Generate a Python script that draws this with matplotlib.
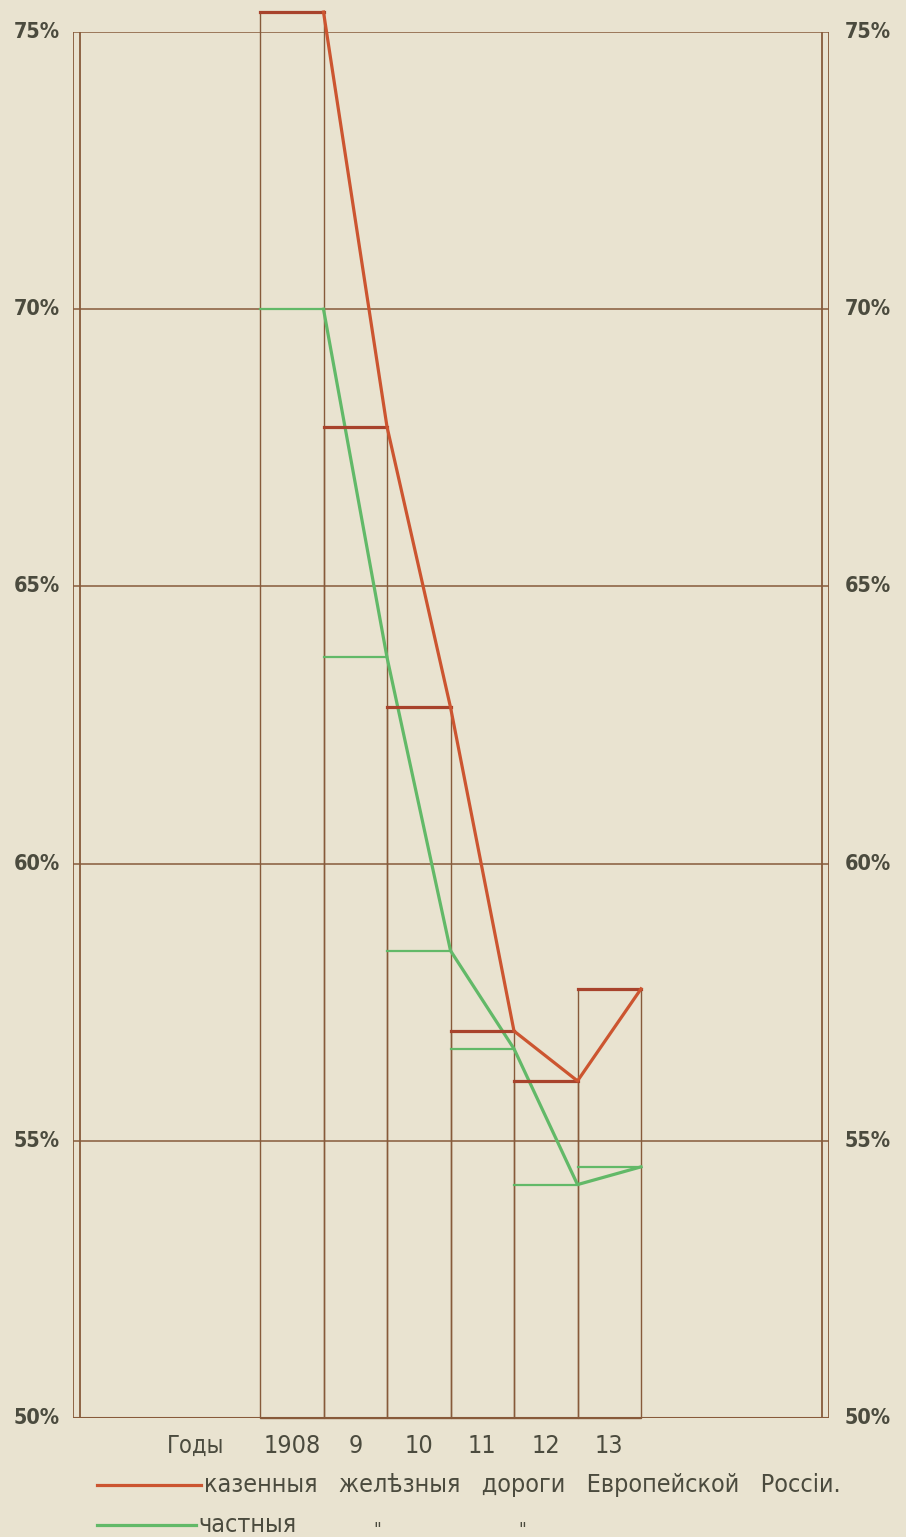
import matplotlib
matplotlib.use('Agg')
import matplotlib.pyplot as plt
from matplotlib.lines import Line2D
from matplotlib import font_manager

# данные
years = ['1908', '9', '10', '11', '12', '13']
state = [75.36, 67.88, 62.82, 56.98, 56.08, 57.74]     # казенныя
private = [70.0, 63.72, 58.43, 56.66, 54.21, 54.53]    # частныя
y_ticks = [50, 55, 60, 65, 70, 75]

BG = '#e9e3d0'
BROWN = '#875a3a'
RED = '#cc5530'
DRED = '#a8432c'
GREEN = '#62b968'
TXT = '#4b4b3e'

names = {f.name for f in font_manager.fontManager.ttflist}
FONT = [n for n in ('DejaVu Sans Condensed', 'Liberation Sans Narrow') if n in names]
FONT += ['DejaVu Sans']

W, H = 906, 1537
fig = plt.figure(figsize=(W / 100, H / 100), dpi=100, facecolor=BG)

unit = 63.5  # px per year column
x0 = 260     # px of first column
xl = (73 - x0) / unit
xr = (829 - x0) / unit
ax = fig.add_axes([73 / W, 1 - 1418 / H, (829 - 73) / W, (1418 - 32) / H])
ax.set_facecolor(BG)
ax.set_xlim(xl, xr)
ax.set_ylim(50, 75)
ax.axis('off')

n = len(years)
xs = list(range(n))

# horizontal grid
for v in y_ticks[1:]:
    ax.plot([xl, xr], [v, v], color=BROWN, lw=1.1, zorder=1)
ax.plot([xl, xr], [50, 50], color=BROWN, lw=1.5, zorder=1)

# double frame lines left / right
d = 7 / unit
for xx in (xl, xl + d, xr - d, xr):
    ax.plot([xx, xx], [50, 75], color=BROWN, lw=1.3, zorder=1)

# column outlines
ax.bar(xs, [s - 50 for s in state], width=1, bottom=50, align='edge',
       fill=False, edgecolor=BROWN, linewidth=1.0, clip_on=False, zorder=2)

# step levels
for i in xs:
    ax.plot([i, i + 1], [private[i], private[i]], color=GREEN, lw=1.6,
            clip_on=False, zorder=3)
    ax.plot([i, i + 1], [state[i], state[i]], color=DRED, lw=2.3,
            clip_on=False, zorder=4)

# connecting lines through right ends
ends = [i + 1 for i in xs]
ax.plot(ends, private, color=GREEN, lw=2.3, clip_on=False, zorder=3)
ax.plot(ends, state, color=RED, lw=2.3, clip_on=False, zorder=4)

# y labels both sides
for v in y_ticks:
    ax.text(xl - 13 / unit, v, f'{v}%', ha='right', va='center', fontsize=15.5,
            fontweight='bold', color=TXT, family=FONT, fontstretch='condensed')
    ax.text(xr + 16 / unit, v, f'{v}%', ha='left', va='center', fontsize=15.5,
            fontweight='bold', color=TXT, family=FONT, fontstretch='condensed')

# x labels
ylab = 50 - 28 / ((1418 - 32) / 25)
ax.text(-1.02, ylab, 'Годы', ha='center', va='center', fontsize=17,
        color=TXT, family=FONT, fontstretch='condensed')
for i, lab in enumerate(years):
    ax.text(i + 0.5, ylab, lab, ha='center', va='center', fontsize=18,
            color=TXT, family=FONT, fontstretch='condensed')

# legend
def fx(px):
    return px / W


def fy(py):
    return 1 - py / H


fig.add_artist(Line2D([fx(97), fx(201)], [fy(1485), fy(1485)], color=RED, lw=2.3))
fig.add_artist(Line2D([fx(97), fx(196)], [fy(1525), fy(1525)], color=GREEN, lw=2.3))
fig.text(fx(204), fy(1485), 'казенныя   желѣзныя   дороги   Европейской   Россiи.',
         ha='left', va='center', fontsize=18, color=TXT, family=FONT,
         fontstretch='condensed')
fig.text(fx(198), fy(1525), 'частныя', ha='left', va='center', fontsize=18,
         color=TXT, family=FONT, fontstretch='condensed')
fig.text(fx(377), fy(1530), '"', ha='center', va='center', fontsize=12,
         color=TXT, family=FONT)
fig.text(fx(522), fy(1530), '"', ha='center', va='center', fontsize=12,
         color=TXT, family=FONT)

fig.savefig('out.png', dpi=100, facecolor=BG)
